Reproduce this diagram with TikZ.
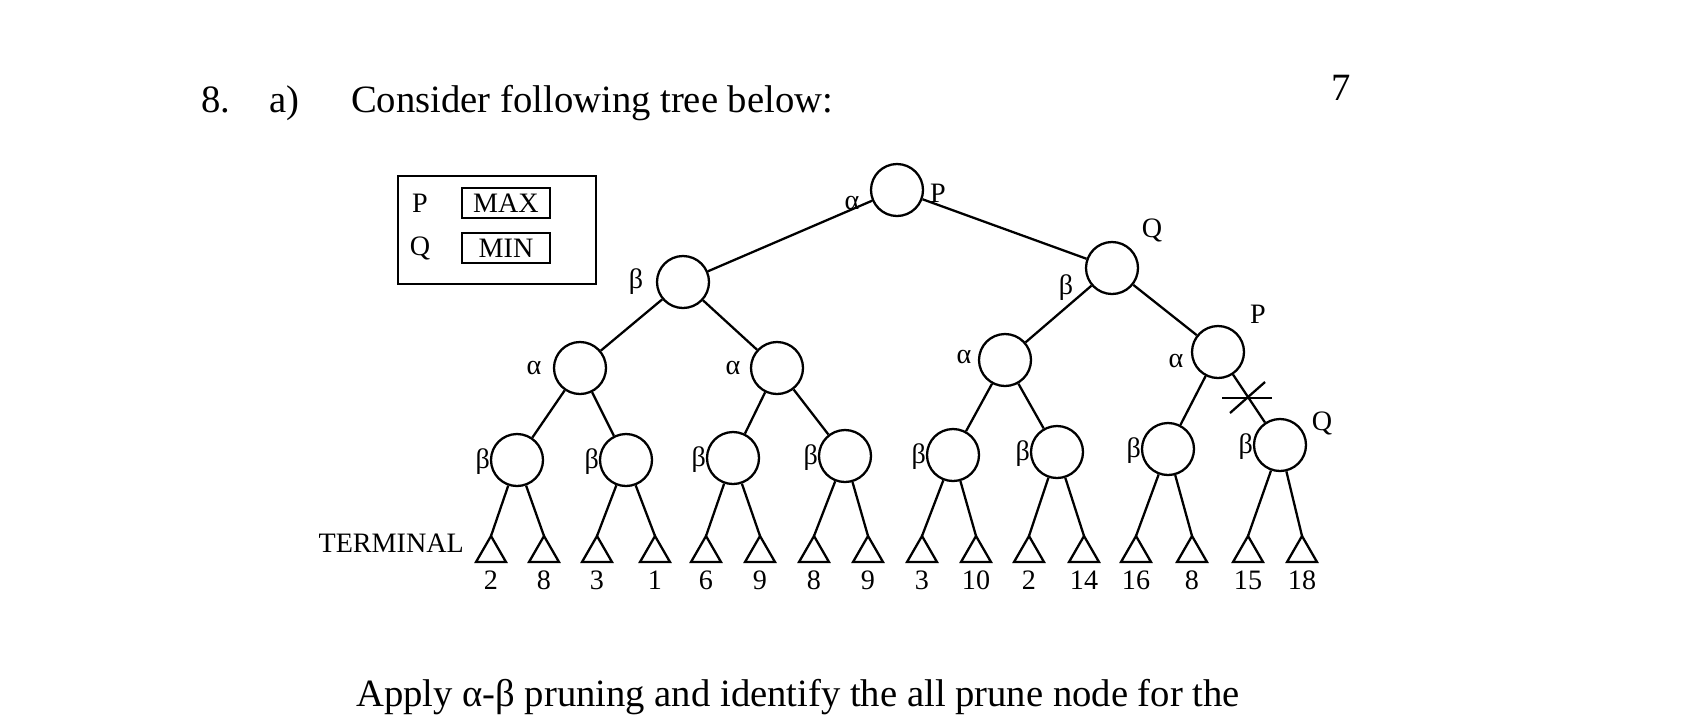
\documentclass[tikz,border=0pt]{standalone}
\usepackage{fontspec}
\setmainfont{Liberation Serif}
\usetikzlibrary{shapes.geometric}
\begin{document}
\begin{tikzpicture}[x=0.02cm,y=-0.02cm,line width=1.3pt,
  nd/.style={circle,draw,minimum size=1.04cm,inner sep=0pt},
  lb/.style={font=\fontsize{16}{16}\selectfont,inner sep=0pt},
  num/.style={font=\fontsize{16}{16}\selectfont,inner sep=0pt},
  big/.style={font=\fontsize{22}{22}\selectfont,inner sep=0pt,anchor=base west}]
\useasboundingbox (0,0) rectangle (1682,718);
\node[big] (t1) at (200,112) {8.};
\node[big] (t2) at (268,112) {a)};
\node[big] (t3) at (350,112) {Consider following tree below:};
\node[big] (t4) at (1330,100) {7};
\node[big] (t5) at (355,706) {Apply α-β pruning and identify the all prune node for the};
% legend
\node[draw,line width=1pt,minimum width=198*0.02cm,minimum height=108*0.02cm,anchor=north west,inner sep=0pt] (leg) at (397,175) {};
\node[lb] (lp) at (420,203) {P};
\node[lb] (lq) at (420,248) {Q};
\node[lb,draw,line width=1pt,minimum width=88*0.02cm,minimum height=30*0.02cm,inner sep=0pt] (lmax) at (506,203) {MAX};
\node[lb,draw,line width=1pt,minimum width=88*0.02cm,minimum height=30*0.02cm,inner sep=0pt] (lmin) at (506,248) {MIN};
% nodes
\node[nd] (r) at (897,190) {};
\node[nd] (a) at (683,282) {};
\node[nd] (b) at (1112,268) {};
\node[nd] (a1) at (580,368) {};
\node[nd] (a2) at (777,368) {};
\node[nd] (b1) at (1005,360) {};
\node[nd] (b2) at (1218,352) {};
\foreach \n/\x/\y in {c1/517/460,c2/626/460,c3/733/458,c4/845/456,c5/953/455,c6/1057/452,c7/1168/449,c8/1280/445}{
  \node[nd] (\n) at (\x,\y) {};
  \node[lb,anchor=east] (\n l) at (\x-26,\y+2) {β};
}
\draw (r) -- (a); \draw (r) -- (b);
\draw (a) -- (a1); \draw (a) -- (a2);
\draw (b) -- (b1); \draw (b) -- (b2);
\draw (a1)--(c1); \draw (a1)--(c2); \draw (a2)--(c3); \draw (a2)--(c4);
\draw (b1)--(c5); \draw (b1)--(c6); \draw (b2)--(c7); \draw (b2)--(c8);
\foreach \i/\x/\v/\p in {1/491/2/c1,2/544/8/c1,3/597/3/c2,4/655/1/c2,5/706/6/c3,6/760/9/c3,7/814/8/c4,8/868/9/c4,9/922/3/c5,10/976/10/c5,11/1029/2/c6,12/1084/14/c6,13/1136/16/c7,14/1192/8/c7,15/1248/15/c8,16/1302/18/c8}{
  \coordinate (t\i) at (\x,536);
  \draw[line join=miter] (t\i) -- ++(-15,26) -- ++(30,0) -- cycle;
  \draw (\p) -- (t\i);
  \node[num] (n\i) at (\x,580) {\v};
}
% labels
\node[lb] (lr1) at (852,203) {α};
\node[lb] (lr2) at (938,193) {P};
\node[lb] (la) at (636,282) {β};
\node[lb] (lb1) at (1066,288) {β};
\node[lb] (lb2) at (1152,230) {Q};
\node[lb] (la1) at (534,368) {α};
\node[lb] (la2) at (733,368) {α};
\node[lb] (lb1a) at (964,357) {α};
\node[lb] (lb2a) at (1176,361) {α};
\node[lb] (lb2p) at (1258,314) {P};
\node[lb] (lc8) at (1322,423) {Q};
\node[lb,anchor=east] (term) at (465,543) {TERMINAL};
% cross
\coordinate (x1) at (1222,398); \coordinate (x2) at (1272,398);
\coordinate (y1) at (1230,413); \coordinate (y2) at (1265,382);
\draw (x1) -- (x2); \draw (y1) -- (y2);
\end{tikzpicture}
\end{document}
